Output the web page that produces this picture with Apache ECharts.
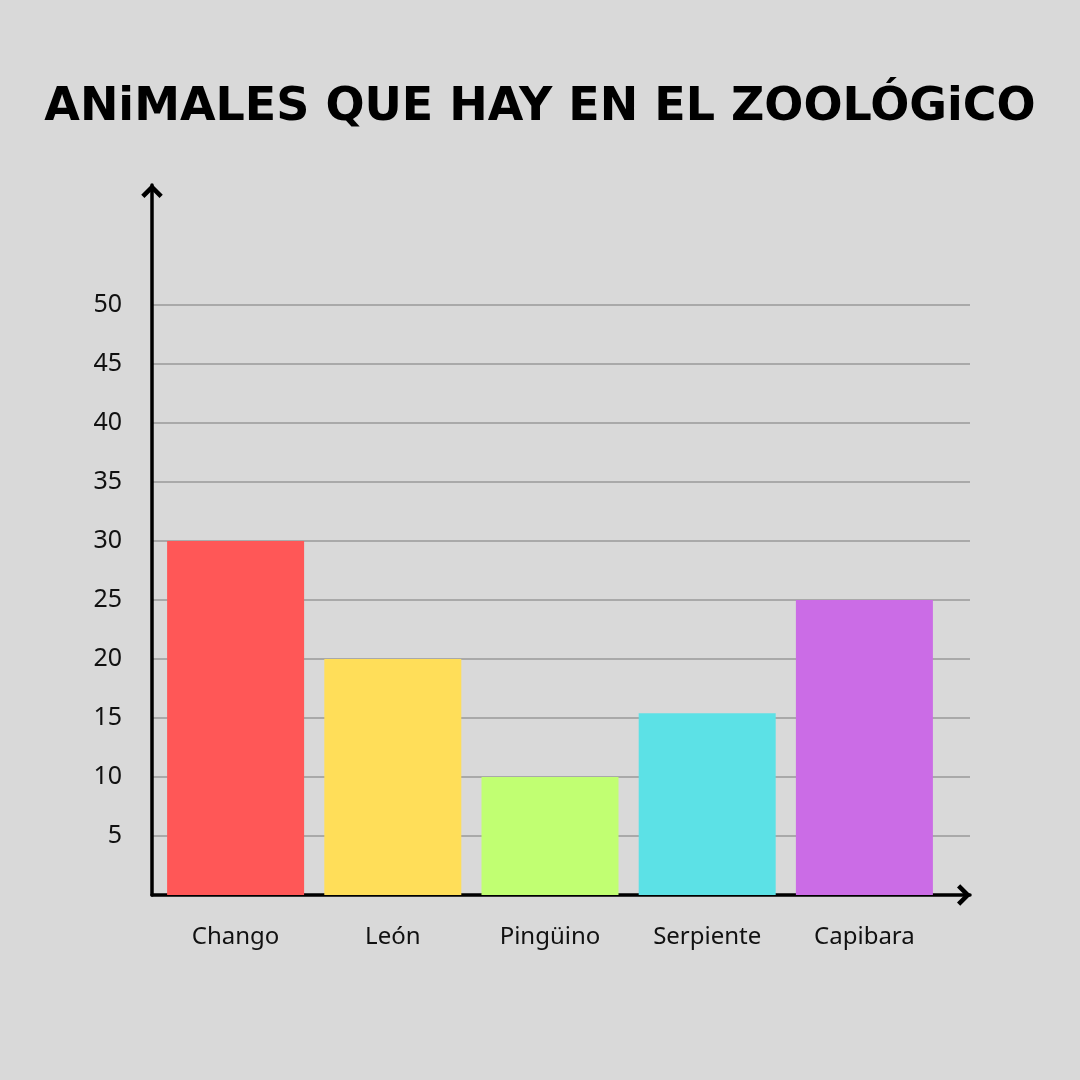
<!DOCTYPE html>
<html>
<head>
<meta charset="utf-8">
<script src="https://cdn.jsdelivr.net/npm/echarts@6/dist/echarts.min.js"></script>
<style>
  html, body { margin: 0; padding: 0; background: #d9d9d9; }
  #chart { width: 1080px; height: 1080px; }
</style>
</head>
<body>
<div id="chart"></div>
<script>
var titulo = 'ANiMALES QUE HAY EN EL ZOOLÓGiCO';
var animales = ['Chango', 'León', 'Pingüino', 'Serpiente', 'Capibara'];
var cantidades = [30, 20, 10, 15.4, 25];
var colores = ['#ff5757', '#ffde59', '#c1ff72', '#5ce1e6', '#cb6ce6'];

// open chevron, tip pointing up
var flecha = 'path://M10,0 L20,10 L17,13 L10,6 L3,13 L0,10 Z';

var chart = echarts.init(document.getElementById('chart'));

var option = {
    backgroundColor: '#d9d9d9',
    animation: false,
    title: {
        text: titulo,
        left: 'center',
        top: 80,
        textStyle: {
            fontFamily: 'DejaVu Sans',
            fontWeight: 'bold',
            fontSize: 46,
            color: '#000'
        }
    },
    grid: [
        // gridlines + y labels
        {left: 152, right: 110, top: 305, bottom: 185},
        // axis lines with arrows
        {left: 152, right: 110, top: 185, bottom: 185},
        // bars
        {left: 157, right: 137, top: 305, bottom: 185}
    ],
    xAxis: [
        {gridIndex: 0, type: 'value', show: false},
        {
            gridIndex: 1, type: 'value', min: 0, max: 1,
            axisLine: {
                show: true, onZero: false,
                symbol: ['none', flecha], symbolSize: [22, 14], symbolOffset: [0, -6],
                lineStyle: {color: '#000', width: 3.5}
            },
            axisTick: {show: false}, axisLabel: {show: false}, splitLine: {show: false}
        },
        {
            gridIndex: 2, type: 'category', data: animales,
            axisLine: {show: false}, axisTick: {show: false},
            axisLabel: {
                margin: 30, fontFamily: 'Noto Sans', fontSize: 24, color: '#111'
            }
        }
    ],
    yAxis: [
        {
            gridIndex: 0, type: 'value', min: 0, max: 50, interval: 5,
            axisLine: {show: false}, axisTick: {show: false},
            axisLabel: {
                margin: 30, fontFamily: 'Noto Sans', fontSize: 25, color: '#111',
                formatter: function (v) { return v === 0 ? '' : v; }
            },
            splitLine: {lineStyle: {color: '#999', width: 1.5}}
        },
        {
            gridIndex: 1, type: 'value', min: 0, max: 1,
            axisLine: {
                show: true, onZero: false,
                symbol: ['none', flecha], symbolSize: [22, 14], symbolOffset: [0, -6],
                lineStyle: {color: '#000', width: 3.5}
            },
            axisTick: {show: false}, axisLabel: {show: false}, splitLine: {show: false}
        },
        {gridIndex: 2, type: 'value', min: 0, max: 50, show: false}
    ],
    series: [{
        type: 'bar',
        xAxisIndex: 2,
        yAxisIndex: 2,
        barWidth: 137,
        z: 1,
        data: cantidades.map(function (v, i) {
            return {value: v, itemStyle: {color: colores[i]}};
        })
    }]
};

chart.setOption(option);
</script>
</body>
</html>
